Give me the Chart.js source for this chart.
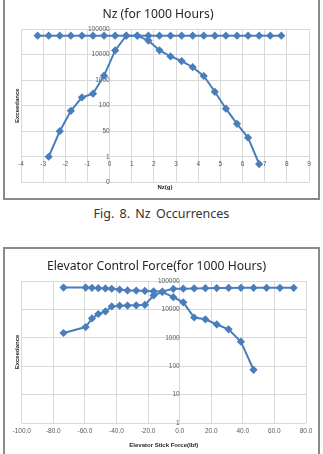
<!DOCTYPE html>
<html>
<head>
<meta charset="utf-8">
<script src="https://cdn.jsdelivr.net/npm/chart.js@4"></script>
<style>
  html, body { margin: 0; padding: 0; background: #fff; width: 323px; height: 454px; overflow: hidden; }
  .box { position: absolute; border: 2px solid #8a8a8a; box-sizing: border-box; background: #fff; }
  .inner { position: relative; width: 100%; height: 100%; }
  #box1 { left: 3px; top: -2px; width: 317px; height: 202px; }
  #box2 { left: 3px; top: 247px; width: 317px; height: 212px; }
  #cap { position: absolute; left: 0; top: 206px; width: 323px; text-align: center;
         font: 12.5px 'Noto Sans', sans-serif; color: #333; word-spacing: 2px; line-height: 15px; }
</style>
</head>
<body>
<div class="box" id="box1"><div class="inner"><canvas id="nz"></canvas></div></div>
<div id="cap">Fig. 8. Nz Occurrences</div>
<div class="box" id="box2"><div class="inner"><canvas id="elev"></canvas></div></div>
<script>
// Nz chart (top)
const nzFlatX = [-3.25, -2.75, -2.25, -1.75, -1.25, -0.75, -0.25, 0.25, 0.75, 1.25, 1.75, 2.25,
                 2.75, 3.25, 3.75, 4.25, 4.75, 5.25, 5.75, 6.25, 6.75, 7.25, 7.75];
const nzFlatY = [55000, 55000, 55000, 55000, 55000, 55000, 55000, 55000, 55000, 55000, 55000, 55000,
                 55000, 55000, 55000, 55000, 55000, 55000, 55000, 55000, 55000, 55000, 55000];
const nzCurveX = [-2.75, -2.25, -1.75, -1.25, -0.75, -0.25, 0.25, 0.75, 1.25, 1.75,
                  2.25, 2.75, 3.25, 3.75, 4.25, 4.75, 5.25, 5.75, 6.25, 6.75];
const nzCurveY = [1, 10, 63, 210, 295, 1500, 14500, 55000, 55000, 35500,
                  14700, 8500, 5600, 3200, 1450, 350, 76, 19.5, 5.6, 0.52];
const nzTickValues = [0.1, 1, 10, 100, 1000, 10000, 100000];
const nzTickLabels = ['0', '1', '50', '100', '1000', '10000', '100000'];

// Elevator control force chart (bottom)
const elevFlatX = [-73.5, -59.5, -55.5, -51.5, -47, -43, -38, -33, -27.5, -22, -16.5, -11,
                   -4, 2.3, 9.2, 16.3, 23.5, 31, 38.8, 46.8, 55, 63.5, 72.2];
const elevFlatY = [59000, 59000, 57500, 56000, 55000, 53500, 50000, 46500, 46000, 45000, 43500, 42500,
                   53000, 54000, 55000, 56000, 56500, 57000, 57500, 57500, 57500, 57500, 57500];
const elevCurveX = [-73.5, -59.5, -55.5, -51.5, -47, -43, -38, -33, -27.5, -22,
                    -16.5, -11, -4, 2.3, 9.2, 16.3, 23.5, 31, 38.8, 46.8];
const elevCurveY = [1480, 2400, 4800, 6900, 8500, 12800, 13500, 13700, 14000, 14500,
                    31000, 41500, 27000, 17800, 5200, 4500, 2950, 2000, 730, 75];
const elevTickValues = [1, 10, 100, 1000, 10000, 100000];

const BLUE = '#4a7ebb';
const GRID = '#d9d9d9';
const TICK_COLOR = '#595959';
const TICK_FONT = { family: 'Liberation Sans', size: 6.5 };
const AXIS_TITLE_FONT = { family: 'Liberation Sans', size: 6, weight: 'bold' };
const TITLE_FONT = { family: 'Noto Sans', size: 12.2, weight: 'normal' };

function series(xs, ys) {
  return {
    data: xs.map((x, i) => ({ x, y: ys[i] })),
    showLine: true, borderColor: BLUE, backgroundColor: BLUE, borderWidth: 2,
    pointStyle: 'rectRot', pointRadius: 2.7, pointHoverRadius: 2.7,
    xAxisID: 'x', yAxisID: 'y'
  };
}

// empty axis that only carries a title, so the real axis can sit inside the plot
function titleAxis(position, text, padding) {
  return {
    type: 'linear', position, display: true,
    ticks: { display: false }, grid: { display: false, drawTicks: false }, border: { display: false },
    title: { display: true, text, color: '#262626', font: AXIS_TITLE_FONT, padding }
  };
}

new Chart(document.getElementById('nz'), {
  type: 'scatter',
  data: { datasets: [series(nzFlatX, nzFlatY), series(nzCurveX, nzCurveY)] },
  options: {
    responsive: true, maintainAspectRatio: false, animation: false,
    layout: { padding: { left: 2, right: 9, top: 0, bottom: 0 } },
    plugins: {
      legend: { display: false }, tooltip: { enabled: false },
      title: { display: true, text: 'Nz (for 1000 Hours)', color: '#262626', font: TITLE_FONT,
               padding: { top: 7.7, bottom: 6.7 } }
    },
    scales: {
      x: {
        type: 'linear', min: -4, max: 9, position: { y: 1 },
        ticks: { stepSize: 1, font: TICK_FONT, color: TICK_COLOR, padding: 4 },
        grid: { color: GRID, drawTicks: false }, border: { display: false }
      },
      y: {
        type: 'logarithmic', min: 0.1, max: 100000, position: { x: 0 },
        afterBuildTicks: s => { s.ticks = nzTickValues.map(v => ({ value: v })); },
        ticks: { autoSkip: false, font: TICK_FONT, color: TICK_COLOR, padding: 4,
                 callback: (v, i) => nzTickLabels[i] },
        grid: { color: GRID, drawTicks: false }, border: { display: false }
      },
      xt: titleAxis('bottom', 'Nz(g)', { top: 1.1, bottom: 7.4 }),
      yt: titleAxis('left', 'Exceedance', { top: 6.4, bottom: 0.4 })
    }
  }
});

new Chart(document.getElementById('elev'), {
  type: 'scatter',
  data: { datasets: [series(elevFlatX, elevFlatY), series(elevCurveX, elevCurveY)] },
  options: {
    responsive: true, maintainAspectRatio: false, animation: false,
    layout: { padding: { left: 2, right: 12, top: 0, bottom: 0 } },
    plugins: {
      legend: { display: false }, tooltip: { enabled: false },
      title: { display: true, text: 'Elevator Control Force(for 1000 Hours)', color: '#262626', font: TITLE_FONT,
               padding: { top: 10.7, bottom: 6.7 } }
    },
    scales: {
      x: {
        type: 'linear', min: -100, max: 80, position: 'bottom',
        ticks: { stepSize: 20, font: TICK_FONT, color: TICK_COLOR, padding: 4,
                 callback: v => v.toFixed(1) },
        grid: { color: GRID, drawTicks: false }, border: { display: false },
        title: { display: true, text: 'Elevator Stick Force(lbf)', color: '#262626', font: AXIS_TITLE_FONT,
                 padding: { top: 2.6, bottom: 8.4 } }
      },
      y: {
        type: 'logarithmic', min: 1, max: 100000, position: { x: 0 },
        afterBuildTicks: s => { s.ticks = elevTickValues.map(v => ({ value: v })); },
        ticks: { autoSkip: false, font: TICK_FONT, color: TICK_COLOR, padding: 4,
                 callback: v => String(v) },
        grid: { color: GRID, drawTicks: false }, border: { display: false }
      },
      yt: titleAxis('left', 'Exceedance', { top: 6.4, bottom: 1.1 })
    }
  }
});
</script>
</body>
</html>
